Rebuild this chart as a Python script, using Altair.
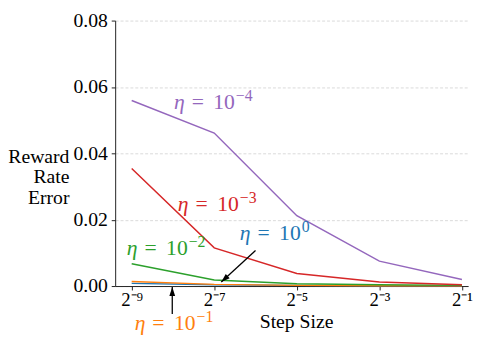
import altair as alt
import pandas as pd

# ---- data -------------------------------------------------------------
step_exp = [-9, -7, -5, -3, -1]          # step size = 2**exp
series_names = ["1e0", "1e-1", "1e-2", "1e-3", "1e-4"]
series_colors = ["#1f77b4", "#ff7f0e", "#2ca02c", "#d62728", "#9467bd"]
err_1e0 = [0.0008, 0.0004, 0.0002, 0.0001, 0.00005]
err_1e_1 = [0.0014, 0.0005, 0.0002, 0.0001, 0.00005]
err_1e_2 = [0.0067, 0.0018, 0.0007, 0.0004, 0.0002]
err_1e_3 = [0.0354, 0.0115, 0.0038, 0.0012, 0.0004]
err_1e_4 = [0.0559, 0.0461, 0.0212, 0.0075, 0.0020]
all_err = [err_1e0, err_1e_1, err_1e_2, err_1e_3, err_1e_4]

x_tick_values = [-9, -7, -5, -3, -1]
x_tick_labels = ["2⁻⁹", "2⁻⁷", "2⁻⁵", "2⁻³", "2⁻¹"]
y_tick_values = [0.0, 0.02, 0.04, 0.06, 0.08]

# labels: anchor = junction between "10" and its exponent (data coords)
label_x = [-4.905, -7.452, -7.643, -6.405, -6.5]
label_y = [0.0139, -0.0132, 0.00957, 0.0226, 0.0536]
label_exp = ["0", "−1", "−2", "−3", "−4"]

# arrows (tail -> tip), data coords
arrow_x = [-6.0, -8.017]
arrow_y = [0.0107, -0.0084]
arrow_x2 = [-6.83, -8.017]
arrow_y2 = [0.0012, -0.0003]
arrow_angle = [227, 0]

FONT = "Liberation Serif"

rows = []
for name, errs in zip(series_names, all_err):
    for e, v in zip(step_exp, errs):
        rows.append({"exp": e, "err": v, "series": name})
lines_df = pd.DataFrame(rows)

labels_df = pd.DataFrame({
    "x": label_x, "y": label_y, "ex": label_exp, "color": series_colors,
})
arrows_df = pd.DataFrame({
    "x": arrow_x, "y": arrow_y, "x2": arrow_x2, "y2": arrow_y2, "angle": arrow_angle,
})

label_expr = " : ".join(
    f"datum.value == {v} ? '{l}'" for v, l in zip(x_tick_values, x_tick_labels)
) + " : ''"

xscale = alt.Scale(domain=[-9.4, -0.85], nice=False, zero=False)
yscale = alt.Scale(domain=[0, 0.08], nice=False, zero=False)

x_axis = alt.Axis(
    values=x_tick_values, labelExpr=label_expr, grid=False, title="Step Size",
    labelFont=FONT, titleFont=FONT,
    labelFontSize=19, labelPadding=1,
    titleFontSize=20, titleX=184, titleY=42, titleBaseline="alphabetic",
    titleAnchor="start", titleAlign="center", labelFlush=False,
)
y_axis = alt.Axis(
    values=y_tick_values, format=".2f", grid=True, gridDash=[3, 2], gridColor="#d0d0d0",
    gridWidth=0.8, title=["Reward", "Rate", "Error"],
    labelFont=FONT, titleFont=FONT,
    labelFontSize=20, labelPadding=4,
    titleFontSize=20, titleAngle=0, titleAlign="right", titleBaseline="alphabetic",
    titleX=-47, titleY=144, titleLineHeight=21,
)

lines = alt.Chart(lines_df).mark_line(strokeWidth=1.5).encode(
    x=alt.X("exp:Q", scale=xscale, axis=x_axis),
    y=alt.Y("err:Q", scale=yscale, axis=y_axis),
    color=alt.Color("series:N", scale=alt.Scale(domain=series_names, range=series_colors), legend=None),
    order=alt.Order("exp:Q"),
)

rules = alt.Chart(arrows_df).mark_rule(color="black", strokeWidth=1.3).encode(
    x=alt.X("x:Q", scale=xscale), y=alt.Y("y:Q", scale=yscale),
    x2="x2:Q", y2="y2:Q",
)
heads = alt.Chart(arrows_df).mark_point(
    shape="M0,0L-0.65,2L0.65,2Z", filled=True, color="black", size=81, opacity=1,
).encode(
    x=alt.X("x2:Q", scale=xscale), y=alt.Y("y2:Q", scale=yscale),
    angle=alt.Angle("angle:Q", scale=None),
)

base = alt.Chart(labels_df).encode(
    x=alt.X("x:Q", scale=xscale), y=alt.Y("y:Q", scale=yscale),
    color=alt.Color("color:N", scale=None),
)
# left-aligned, middle-baseline texts; offsets keep the alphabetic baseline at the anchor
t_eta = base.mark_text(text="η", font=FONT, fontSize=22, fontStyle="italic",
                       align="left", dx=-62, dy=-6.6)
t_eq = base.mark_text(text="=", font=FONT, fontSize=22, align="left",
                      dx=-44, dy=-6.6)
t_ten = base.mark_text(text="10", font=FONT, fontSize=22, align="left",
                       dx=-22, dy=-6.6)
t_exp = base.mark_text(font=FONT, fontSize=16, align="left",
                       dx=1, dy=-12.8).encode(text="ex:N")

chart = alt.layer(lines, rules, heads, t_eta, t_eq, t_ten, t_exp).properties(
    width=359, height=270,
    autosize=alt.AutoSizeParams(type="none"),
    padding={"left": 109, "top": 10, "right": 8, "bottom": 47},
).configure_view(stroke=None).configure_axis(
    labelColor="black", titleColor="black",
    titleFontWeight="normal", tickSize=4, domainColor="#222", tickColor="#222",
)

chart.save("out.html", embed_options={"renderer": "svg", "actions": False})
